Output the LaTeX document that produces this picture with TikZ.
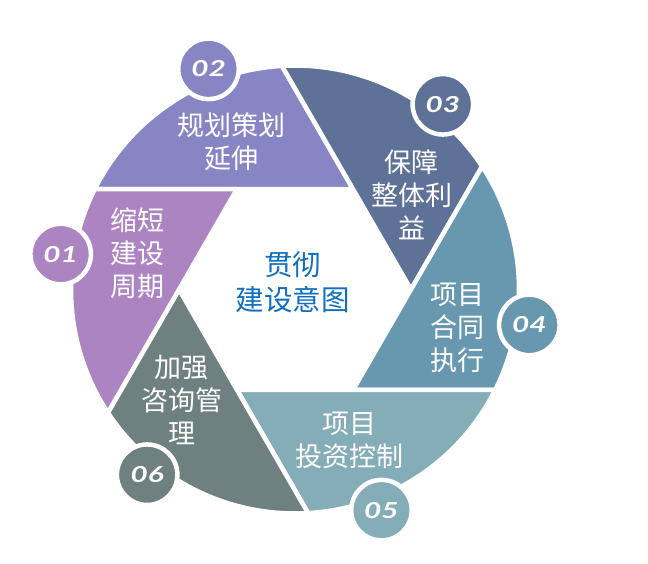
\documentclass[tikz,border=0pt]{standalone}
\usepackage{fontspec}
\usepackage{graphicx}
\newfontfamily\cjk{Noto Sans CJK SC}
\newfontfamily\numfont{Lato}
\definecolor{seg01}{HTML}{AD84C2}
\definecolor{seg02}{HTML}{8785C4}
\definecolor{seg03}{HTML}{5E7298}
\definecolor{seg04}{HTML}{6898B0}
\definecolor{seg05}{HTML}{85ADB7}
\definecolor{seg06}{HTML}{6E8080}
\definecolor{goalblue}{HTML}{0E6FC1}

\begin{document}
\begin{tikzpicture}[x=1pt, y=1pt]
  \tikzstyle{blade} = [draw=white, line width=4.5pt, line join=round]
  \tikzstyle{badge} = [circle, draw=white, line width=4.5pt, minimum size=60.5pt, inner sep=0pt, text=white, font=\numfont\bfseries\itshape\fontsize{22}{22}\selectfont]
  \tikzstyle{bladetext} = [align=center, text=white, font=\cjk\fontsize{27}{33}\selectfont]
  \useasboundingbox (-295,-273.5) rectangle (353,289.5);

  % shutter blades, one per step
  \foreach \tip/\col in {60/seg02, 0/seg03, -60/seg04, -120/seg05, -180/seg06, 120/seg01}
    \filldraw[blade, fill=\col] (\tip:116) -- (\tip+60:116) -- (\tip+93.35:224)
      arc[start angle=\tip+93.35, end angle=\tip+33.35, radius=224] -- cycle;

  \node[bladetext] (t1) at (-157,36) {缩短\\建设\\周期};
  \node[bladetext] (t2) at (-63,148) {规划策划\\延伸};
  \node[bladetext] (t3) at (117,94.5) {保障\\整体利\\益};
  \node[bladetext] (t4) at (162,-38.5) {项目\\合同\\执行};
  \node[bladetext] (t5) at (55,-150.5) {项目\\投资控制};
  \node[bladetext] (t6) at (-113,-110.5) {加强\\咨询管\\理};

  \node[align=center, text=goalblue, font=\cjk\fontsize{28.5}{35}\selectfont] (goal) at (-2,7) {贯彻\\建设意图};

  % numbered badges
  \node[badge, fill=seg01] (n1) at (171.4:237) {\scalebox{1.35}[1]{01}};
  \node[badge, fill=seg02] (n2) at (111.4:237) {\scalebox{1.35}[1]{02}};
  \node[badge, fill=seg03] (n3) at (51.4:237) {\scalebox{1.35}[1]{03}};
  \node[badge, fill=seg04] (n4) at (-8.6:237) {\scalebox{1.35}[1]{04}};
  \node[badge, fill=seg05] (n5) at (-68.6:237) {\scalebox{1.35}[1]{05}};
  \node[badge, fill=seg06] (n6) at (-128.6:237) {\scalebox{1.35}[1]{06}};
\end{tikzpicture}
\end{document}
